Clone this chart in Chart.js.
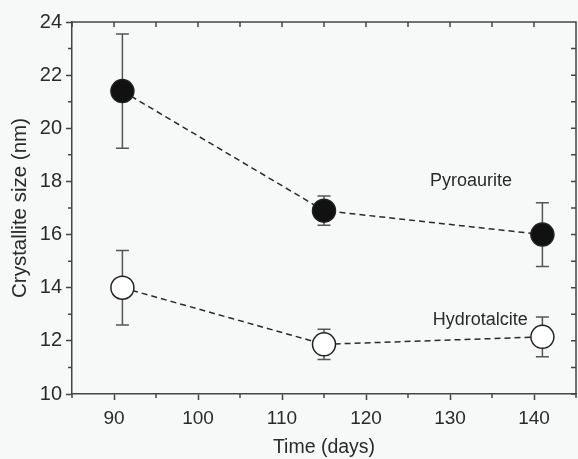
<!DOCTYPE html>
<html>
<head>
<meta charset="utf-8">
<script src="https://cdn.jsdelivr.net/npm/chart.js@4/dist/chart.umd.min.js"></script>
<style>
  html, body { margin: 0; padding: 0; background: #f7f8f8; overflow: hidden; }
  #wrap { width: 578px; height: 459px; }
  canvas { display: block; }
</style>
</head>
<body>
<div id="wrap"><canvas id="chart" width="578" height="459"></canvas></div>
<script>
// values
const days = [91, 115, 141];
const pyroaurite = [21.4, 16.9, 16.0];
const pyroauriteErr = [2.15, 0.55, 1.2];
const hydrotalcite = [14.0, 11.87, 12.15];
const hydrotalciteErr = [1.4, 0.57, 0.75];

const xTicks = [90, 100, 110, 120, 130, 140];
const xMinorTicks = [85, 95, 105, 115, 125, 135, 145];
const yTicks = [10, 12, 14, 16, 18, 20, 22, 24];
const yMinorTicks = [11, 13, 15, 17, 19, 21, 23];

const seriesNames = ['Pyroaurite', 'Hydrotalcite'];
const nameAnchors = [[132.5, 18.0], [133.6, 12.8]];

const FONT = 'Liberation Sans, Arial, sans-serif';
const INK = '#2a2a2a';
const AXIS = '#444';

const toPoints = ys => days.map((d, i) => ({ x: d, y: ys[i] }));

// error bars, drawn under the markers
const errorBars = {
    id: 'errorBars',
    beforeDatasetsDraw(chart) {
        const ctx = chart.ctx;
        const xs = chart.scales.x, ys = chart.scales.y;
        ctx.save();
        ctx.strokeStyle = '#555';
        ctx.lineWidth = 1.5;
        chart.data.datasets.forEach(ds => {
            ds.data.forEach((p, i) => {
                const x = xs.getPixelForValue(p.x);
                const top = ys.getPixelForValue(p.y + ds.errors[i]);
                const bot = ys.getPixelForValue(p.y - ds.errors[i]);
                ctx.beginPath();
                ctx.moveTo(x, top); ctx.lineTo(x, bot);
                ctx.moveTo(x - 6.5, top); ctx.lineTo(x + 6.5, top);
                ctx.moveTo(x - 6.5, bot); ctx.lineTo(x + 6.5, bot);
                ctx.stroke();
            });
        });
        ctx.restore();
    }
};

// frame, minor ticks and inward ticks on top / right
const frame = {
    id: 'frame',
    afterDraw(chart) {
        const ctx = chart.ctx;
        const a = chart.chartArea;
        const xs = chart.scales.x, ys = chart.scales.y;
        ctx.save();
        ctx.strokeStyle = AXIS;
        ctx.lineWidth = 1.5;
        ctx.beginPath();
        ctx.moveTo(a.left, a.top); ctx.lineTo(a.right, a.top); ctx.lineTo(a.right, a.bottom);
        xMinorTicks.forEach(v => {
            const x = xs.getPixelForValue(v);
            ctx.moveTo(x, a.bottom); ctx.lineTo(x, a.bottom + 4);
        });
        xTicks.concat(xMinorTicks).forEach(v => {
            const x = xs.getPixelForValue(v);
            ctx.moveTo(x, a.top); ctx.lineTo(x, a.top + 5);
        });
        yMinorTicks.forEach(v => {
            const y = ys.getPixelForValue(v);
            ctx.moveTo(a.left, y); ctx.lineTo(a.left - 4, y);
        });
        yTicks.concat(yMinorTicks).forEach(v => {
            const y = ys.getPixelForValue(v);
            ctx.moveTo(a.right, y); ctx.lineTo(a.right - 5, y);
        });
        ctx.stroke();

        ctx.fillStyle = INK;
        ctx.font = '18px ' + FONT;
        ctx.textAlign = 'center';
        ctx.textBaseline = 'middle';
        seriesNames.forEach((name, i) => {
            ctx.fillText(name, xs.getPixelForValue(nameAnchors[i][0]), ys.getPixelForValue(nameAnchors[i][1]));
        });
        ctx.restore();
    }
};

const bgFill = {
    id: 'bgFill',
    beforeDraw(chart) {
        const ctx = chart.ctx;
        ctx.save();
        ctx.fillStyle = '#f7f8f8';
        ctx.fillRect(0, 0, chart.width, chart.height);
        ctx.restore();
    }
};

new Chart(document.getElementById('chart'), {
    type: 'scatter',
    data: {
        datasets: [{
            label: seriesNames[0],
            data: toPoints(pyroaurite),
            errors: pyroauriteErr,
            showLine: true,
            borderColor: INK,
            borderWidth: 1.5,
            borderDash: [6, 4],
            pointRadius: 11.5,
            pointBackgroundColor: '#111',
            pointBorderColor: '#222',
            pointBorderWidth: 1.5
        }, {
            label: seriesNames[1],
            data: toPoints(hydrotalcite),
            errors: hydrotalciteErr,
            showLine: true,
            borderColor: INK,
            borderWidth: 1.5,
            borderDash: [6, 4],
            pointRadius: 11.5,
            pointBackgroundColor: '#fff',
            pointBorderColor: '#222',
            pointBorderWidth: 1.5
        }]
    },
    options: {
        responsive: false,
        animation: false,
        layout: { autoPadding: false, padding: { top: 22, right: 2, left: 0, bottom: 0 } },
        plugins: { legend: { display: false }, tooltip: { enabled: false } },
        scales: {
            x: {
                type: 'linear',
                min: 85,
                max: 145,
                afterBuildTicks: s => { s.ticks = xTicks.map(v => ({ value: v })); },
                afterFit: s => { s.height = 65; s.paddingLeft = 0; s.paddingRight = 0; },
                grid: { drawOnChartArea: false, tickLength: 6, tickColor: AXIS, tickWidth: 1.5 },
                border: { color: AXIS, width: 1.5 },
                ticks: { color: INK, font: { family: FONT, size: 19 }, padding: 7, maxRotation: 0 },
                title: {
                    display: true, text: 'Time (days)', color: INK,
                    font: { family: FONT, size: 19.5 }, padding: { top: 0, bottom: 0 }
                }
            },
            y: {
                min: 10,
                max: 24,
                afterBuildTicks: s => { s.ticks = yTicks.map(v => ({ value: v })); },
                afterFit: s => { s.width = 72; s.paddingTop = 0; s.paddingBottom = 0; },
                grid: { drawOnChartArea: false, tickLength: 6, tickColor: AXIS, tickWidth: 1.5 },
                border: { color: AXIS, width: 1.5 },
                ticks: { color: INK, font: { family: FONT, size: 20 }, padding: 4 },
                title: {
                    display: true, text: 'Crystallite size (nm)', color: INK,
                    font: { family: FONT, size: 20.5 }, padding: { top: 8, bottom: 0 }
                }
            }
        }
    },
    plugins: [bgFill, errorBars, frame]
});
</script>
</body>
</html>
